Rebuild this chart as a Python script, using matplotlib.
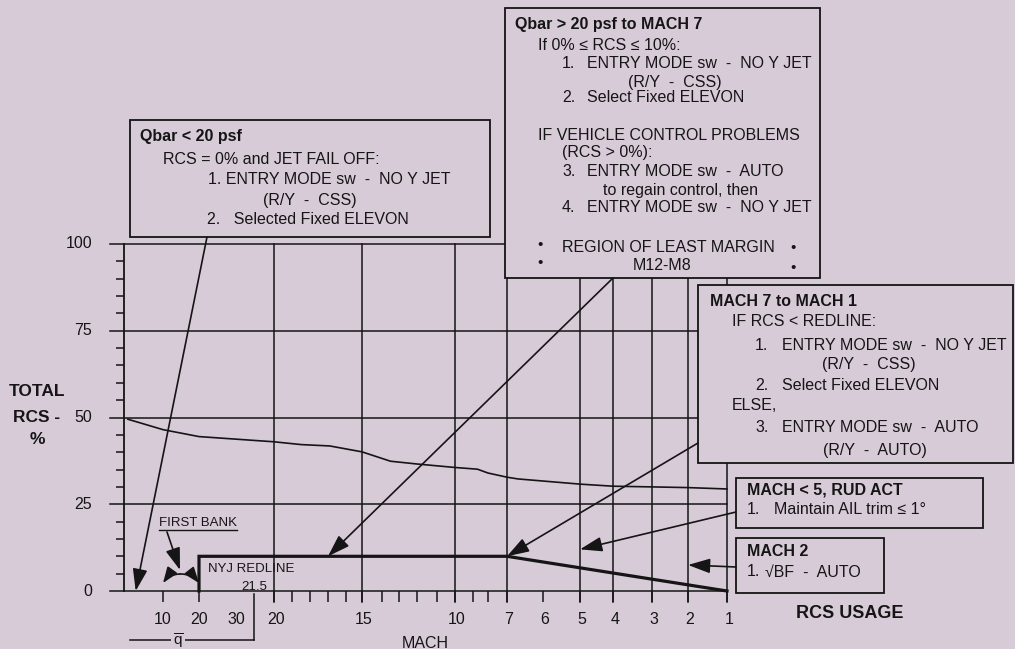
import numpy as np
import matplotlib.pyplot as plt
import matplotlib.transforms as mtransforms
from matplotlib.patches import Rectangle

plt.rcParams['font.family'] = ['Liberation Sans', 'DejaVu Sans']

# ---- values ----
rcs_major = [0, 25, 50, 75, 100]
rcs_minor = [v for v in range(5, 100, 5) if v % 25]
qbar_ticks = [10, 20]
qbar_label_vals = [10, 20, 30]
mach_grid = [20, 15, 10, 7, 5, 4, 3, 2, 1]
mach_ticks = list(range(20, 0, -1))
mach_label_vals = [20, 15, 10, 7, 6, 5, 4, 3, 2, 1]

# total RCS curve (first on qbar, then on mach)
curve_qbar = [1, 10, 20]
curve_qbar_rcs = [49.5, 46.5, 44.5]
curve_mach = [20, 18.5, 16.9, 15, 13.5, 12, 10, 8.7, 8, 7, 6.7, 5, 4, 3, 2, 1]
curve_mach_rcs = [43.0, 42.2, 41.8, 40.1, 37.4, 36.6, 35.6, 35.1, 34.0, 32.8,
                  32.3, 30.8, 30.2, 30.0, 29.8, 29.4]

# NYJ redline
redline_qbar = 20
redline_mach = [7, 1]
redline_rcs = [10, 10, 0]

# where the arrows point
arrow_qbar_low = 3          # Qbar < 20 box
arrow_mach_hi = 17          # Qbar > 20 box
arrow_mach7 = 7
arrow_mach5 = (5, 12)
arrow_mach2 = (2, 7.5)
first_bank_qbar = [10, 20]

# ---- layout ----
W, H = 1015, 649
Y0, PX_PER = 591, 3.47        # pixel row of 0 %, pixels per percent
BG = '#d8cbd8'
INK = '#151515'
FS = 11.5

MACH_KNOTS = np.arange(21, 0, -1)
MACH_PX = [255, 274, 292, 310, 328, 346, 362, 382, 399, 417, 437,
           455, 473, 488, 507, 543, 580, 613, 652, 688, 727]
QBAR_KNOTS = [0, 10, 20, 30]
QBAR_PX = [124, 163, 199, 236]


def mach_x(m):
    return np.interp(-np.asarray(m, dtype=float), -MACH_KNOTS, MACH_PX)


def qbar_x(q):
    return np.interp(np.asarray(q, dtype=float), QBAR_KNOTS, QBAR_PX)


fig = plt.figure(figsize=(W / 100, H / 100), dpi=100, facecolor=BG)
ax = fig.add_axes([0, 0, 1, 1])
ax.set_xlim(0, W)
ax.set_ylim((Y0 - H) / PX_PER, Y0 / PX_PER)
ax.axis('off')
# top-down pixel coordinates for boxes and labels
T = mtransforms.Affine2D().scale(1 / W, -1 / H).translate(0, 1) + fig.transFigure

tick = 11 / PX_PER
x_end = float(mach_x(1))

# grid
for v in rcs_major:
    ax.plot([110, x_end], [v, v], color=INK, lw=1.1, zorder=2)
ax.plot([qbar_x(0)] * 2, [0, 100], color=INK, lw=1.3, zorder=2)
for m in mach_grid:
    ax.plot([mach_x(m)] * 2, [-tick, 100], color=INK, lw=1.1, zorder=2)
ax.hlines(rcs_minor, 116, qbar_x(0), color=INK, lw=1.1, zorder=2)
ax.vlines(mach_x(mach_ticks), -tick, 0, color=INK, lw=1.1, zorder=2)
ax.vlines(qbar_x(qbar_ticks), -tick, 0, color=INK, lw=1.1, zorder=2)

# curve
cx = np.concatenate([qbar_x(curve_qbar), mach_x(curve_mach)])
cy = np.concatenate([curve_qbar_rcs, curve_mach_rcs])
ax.plot(cx, cy, color=INK, lw=1.2, zorder=3)

# redline
rx = [qbar_x(redline_qbar), qbar_x(redline_qbar)] + list(mach_x(redline_mach))
ry = [0] + redline_rcs
ax.plot(rx, ry, color=INK, lw=2.3, zorder=3, solid_joinstyle='miter')

# tick labels
for v in rcs_major:
    ax.text(92, v, str(v), ha='right', va='center', fontsize=11.5, color=INK)
lab_y = -(620 - Y0) / PX_PER
for q in qbar_label_vals:
    ax.text(qbar_x(q), lab_y, str(q), ha='center', va='center', fontsize=11.5, color=INK)
for m in mach_label_vals:
    ax.text(mach_x(m) + 2, lab_y, str(m), ha='center', va='center', fontsize=11.5, color=INK)


def txt(x, y, s, fs=FS, **kw):
    ax.text(x, y, s, transform=T, va='center', fontsize=fs, color=INK, zorder=7, **kw)


def box(x0, y0, x1, y1):
    ax.add_patch(Rectangle((x0, y0), x1 - x0, y1 - y0, transform=T, fc=BG,
                           ec=INK, lw=1.3, zorder=5))


def arrow(xy, start, coords='data'):
    ax.annotate('', xy=xy, xycoords=coords, xytext=start, textcoords=T,
                arrowprops=dict(arrowstyle='-|>,head_length=0.9,head_width=0.3',
                                color=INK, lw=1.2, mutation_scale=15,
                                shrinkA=0, shrinkB=0), zorder=6)


# axis titles
txt(37, 392, 'TOTAL', fs=12.5, ha='center', fontweight='bold')
txt(37, 417, 'RCS -', fs=12.5, ha='center', fontweight='bold')
txt(37, 439, '%', fs=12.5, ha='center', fontweight='bold')
txt(425, 643, 'MACH', fs=11.5, ha='center')
txt(850, 613, 'RCS USAGE', fs=13, ha='center', fontweight='bold')

# qbar bracket
ax.plot([130, 254], [640, 640], color=INK, lw=1.1, transform=T, zorder=2)
ax.plot([254, 254], [594, 640], color=INK, lw=1.1, transform=T, zorder=2)
ax.text(178, 641, r'$\overline{\mathregular{q}}$', transform=T, ha='center', va='center',
        fontsize=11, color=INK, zorder=7, bbox=dict(fc=BG, ec='none', pad=1))

# redline labels
txt(208, 569, 'NYJ REDLINE', fs=9.5)
txt(254, 587, '21.5', fs=9.5, ha='center')

# first bank
txt(159, 523, 'FIRST BANK', fs=9.5)
ax.plot([159, 237], [530, 530], color=INK, lw=1.0, transform=T, zorder=3)
arrow((180, 570), (167, 532), coords=T)
for q, rad in zip(first_bank_qbar, [0.25, -0.25]):
    ax.annotate('', xy=(qbar_x(q), 2.3), xytext=(180, 574), textcoords=T,
                arrowprops=dict(arrowstyle='-|>,head_length=0.8,head_width=0.3',
                                color=INK, lw=1.2, mutation_scale=12,
                                shrinkA=0, shrinkB=0,
                                connectionstyle=f'arc3,rad={rad}'), zorder=6)

# Qbar < 20 box
box(130, 120, 490, 237)
txt(140, 137, 'Qbar < 20 psf', fontweight='bold')
txt(163, 160, 'RCS = 0% and JET FAIL OFF:')
txt(208, 180, '1. ENTRY MODE sw  -  NO Y JET')
txt(263, 200, '(R/Y  -  CSS)')
txt(207, 220, '2.   Selected Fixed ELEVON')
arrow((qbar_x(arrow_qbar_low), 0), (207, 237))

# Qbar > 20 box
box(505, 8, 820, 278)
txt(515, 25, 'Qbar > 20 psf to MACH 7', fontweight='bold')
txt(538, 45, 'If 0% \u2264 RCS \u2264 10%:')
txt(562, 63, '1.')
txt(587, 63, 'ENTRY MODE sw  -  NO Y JET')
txt(628, 82, '(R/Y  -  CSS)')
txt(562, 98, '2.')
txt(587, 98, 'Select Fixed ELEVON')
txt(538, 135, 'IF VEHICLE CONTROL PROBLEMS')
txt(562, 153, '(RCS > 0%):')
txt(562, 172, '3.')
txt(587, 172, 'ENTRY MODE sw  -  AUTO')
txt(603, 191, 'to regain control, then')
txt(562, 208, '4.')
txt(587, 208, 'ENTRY MODE sw  -  NO Y JET')
txt(562, 247, 'REGION OF LEAST MARGIN')
txt(633, 265, 'M12-M8')
for bx, by in [(537, 245), (537, 263), (790, 248), (790, 268)]:
    txt(bx, by, '\u2022', fs=11)
arrow((mach_x(arrow_mach_hi), 10), (613, 278))

# MACH 7 to MACH 1 box
box(698, 285, 1013, 463)
txt(710, 302, 'MACH 7 to MACH 1', fontweight='bold')
txt(732, 322, 'IF RCS < REDLINE:')
txt(755, 345, '1.')
txt(782, 345, 'ENTRY MODE sw  -  NO Y JET')
txt(822, 365, '(R/Y  -  CSS)')
txt(755, 385, '2.')
txt(782, 385, 'Select Fixed ELEVON')
txt(732, 405, 'ELSE,')
txt(755, 428, '3.')
txt(782, 428, 'ENTRY MODE sw  -  AUTO')
txt(823, 450, '(R/Y  -  AUTO)')
arrow((mach_x(arrow_mach7), 10), (698, 443))

# MACH < 5 box
box(736, 478, 983, 528)
txt(747, 490, 'MACH < 5, RUD ACT', fontweight='bold')
txt(747, 510, '1.')
txt(774, 510, 'Maintain AIL trim \u2264 1\u00b0')
arrow((mach_x(arrow_mach5[0]), arrow_mach5[1]), (736, 512))

# MACH 2 box
box(736, 538, 884, 593)
txt(747, 552, 'MACH 2', fontweight='bold')
txt(747, 572, '1.')
txt(765, 572, '\u221aBF  -  AUTO')
arrow((mach_x(arrow_mach2[0]), arrow_mach2[1]), (736, 567))

fig.savefig('out.png', dpi=100, facecolor=BG)
